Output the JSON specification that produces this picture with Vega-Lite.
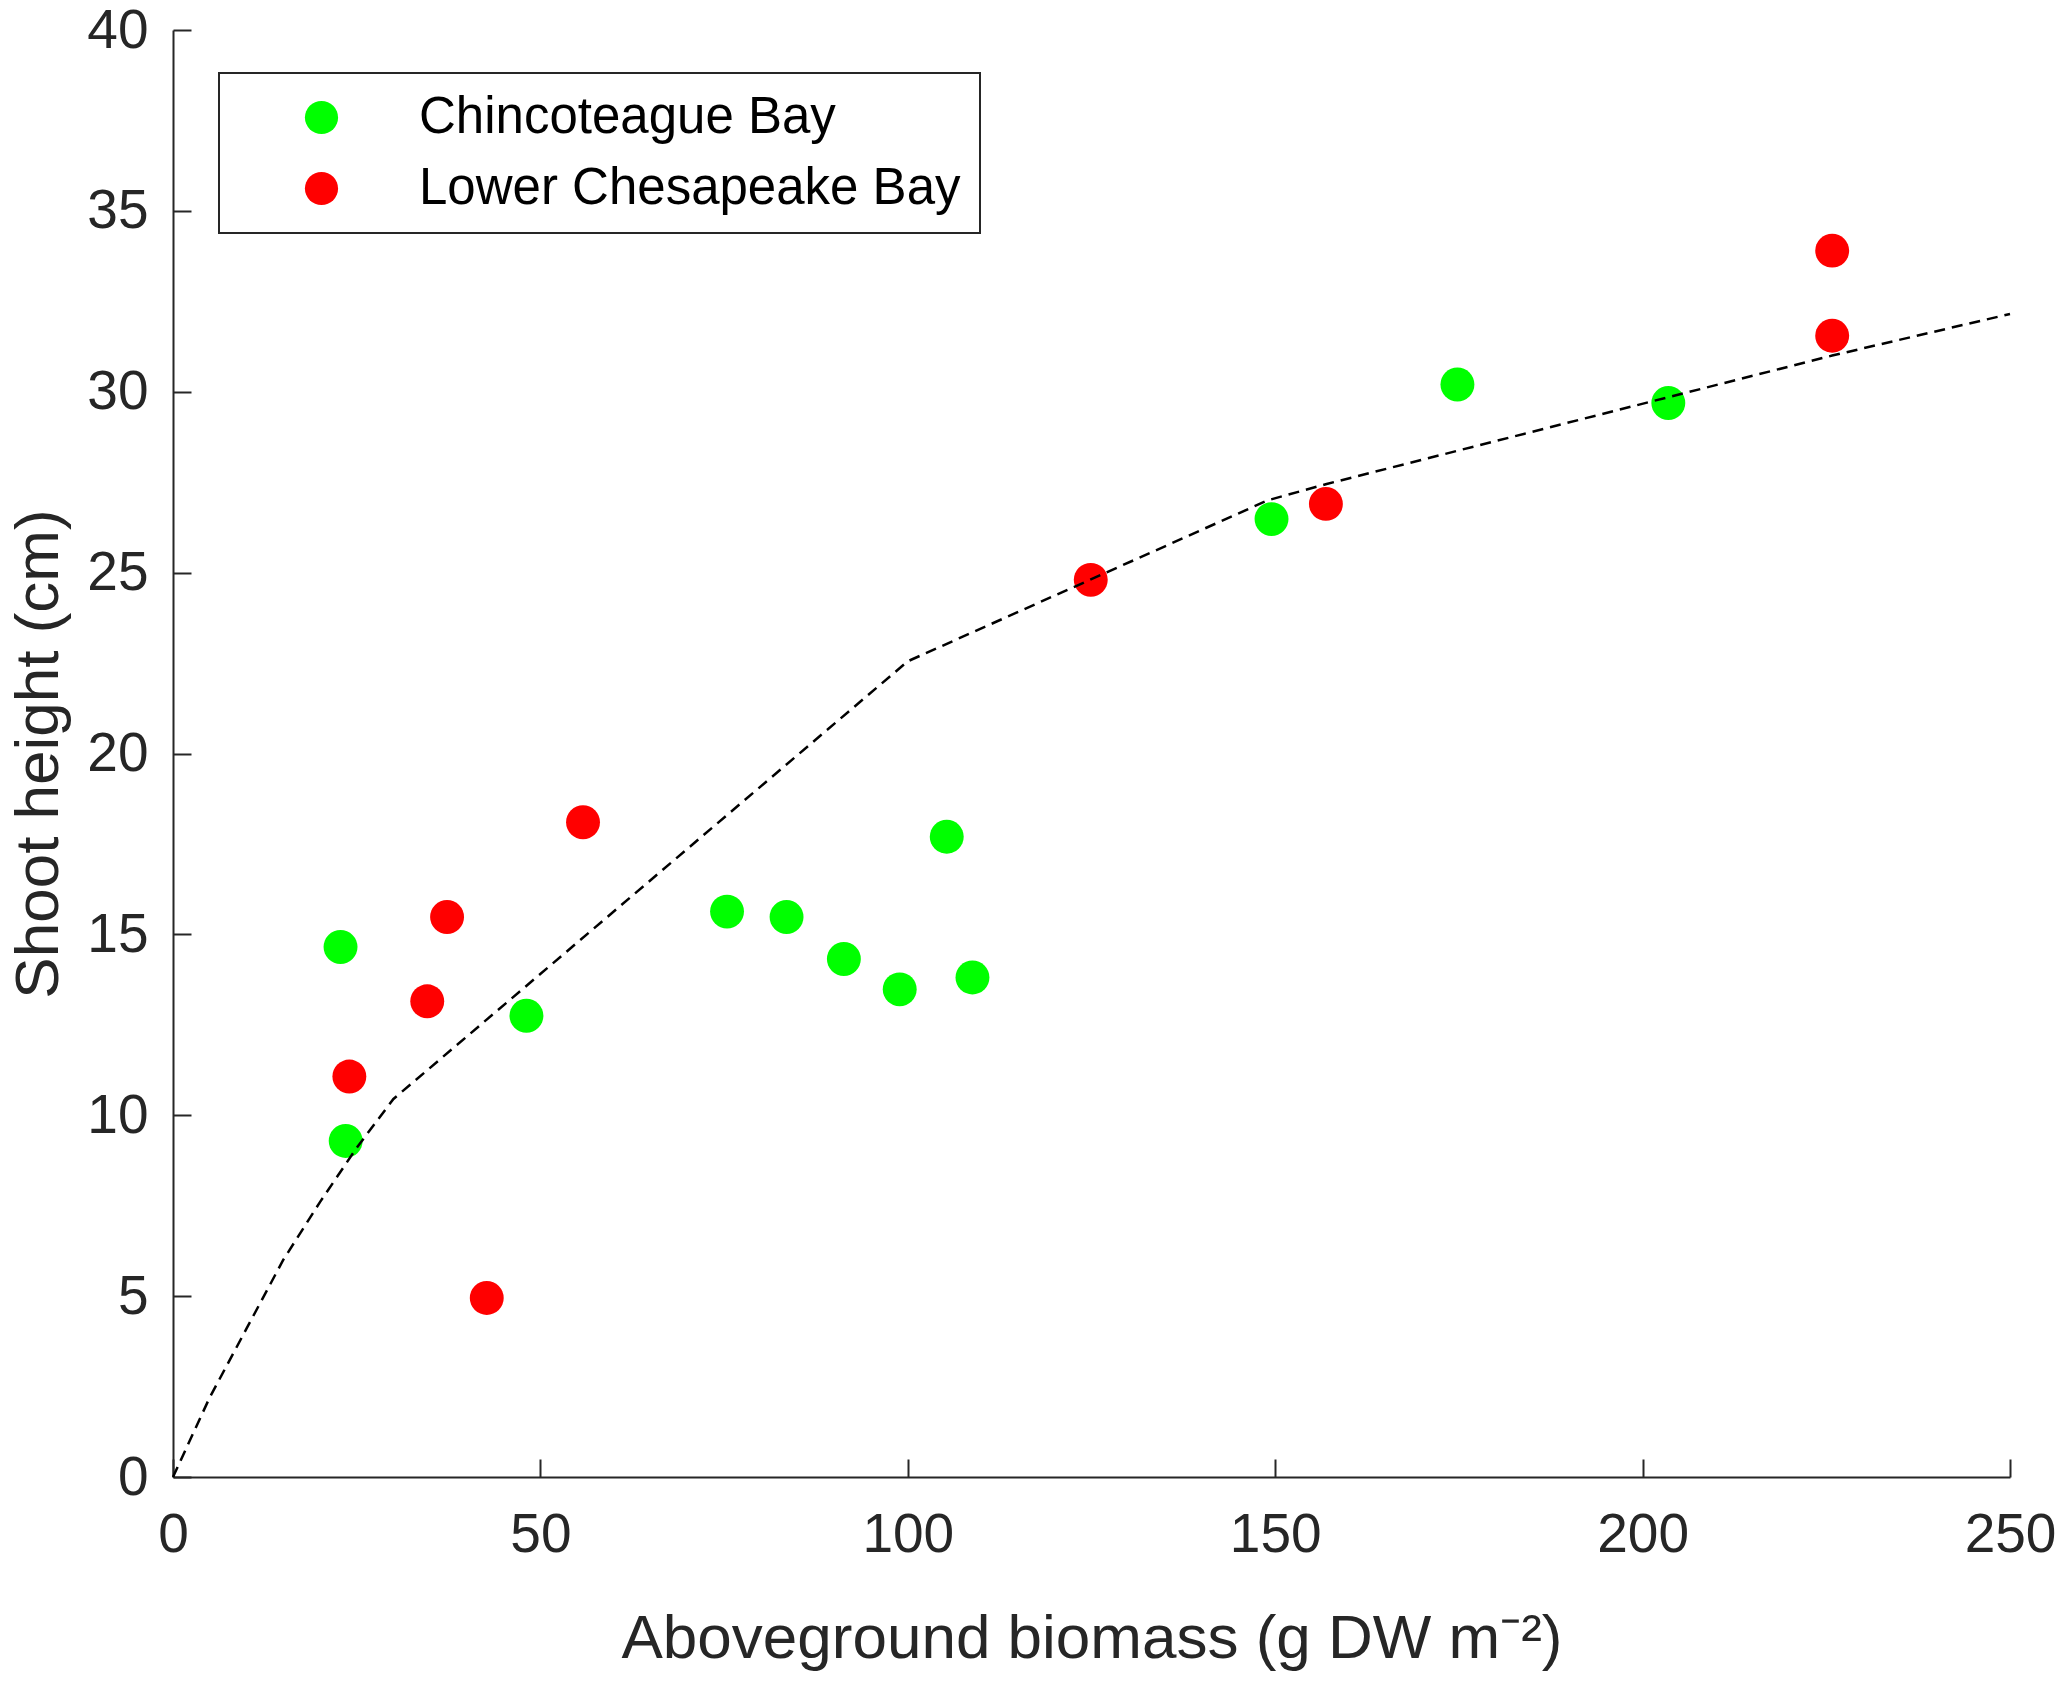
{
  "$schema": "https://vega.github.io/schema/vega-lite/v6.json",
  "description": "Shoot height versus aboveground biomass, Chincoteague Bay and Lower Chesapeake Bay",
  "autosize": "none",
  "width": 1837,
  "height": 1447,
  "padding": {"left": 173, "top": 30, "right": 57, "bottom": 205},
  "background": "white",
  "datasets": {
    "points": [
      {"site": "Chincoteague Bay", "biomass": 22.8, "height": 14.65},
      {"site": "Chincoteague Bay", "biomass": 23.5, "height": 9.29},
      {"site": "Chincoteague Bay", "biomass": 48.1, "height": 12.75},
      {"site": "Chincoteague Bay", "biomass": 75.4, "height": 15.63},
      {"site": "Chincoteague Bay", "biomass": 83.5, "height": 15.48},
      {"site": "Chincoteague Bay", "biomass": 91.3, "height": 14.32},
      {"site": "Chincoteague Bay", "biomass": 98.9, "height": 13.48},
      {"site": "Chincoteague Bay", "biomass": 105.3, "height": 17.7},
      {"site": "Chincoteague Bay", "biomass": 108.8, "height": 13.81},
      {"site": "Chincoteague Bay", "biomass": 149.5, "height": 26.48},
      {"site": "Chincoteague Bay", "biomass": 174.8, "height": 30.2},
      {"site": "Chincoteague Bay", "biomass": 203.5, "height": 29.69},
      {"site": "Lower Chesapeake Bay", "biomass": 24.0, "height": 11.07},
      {"site": "Lower Chesapeake Bay", "biomass": 34.6, "height": 13.15},
      {"site": "Lower Chesapeake Bay", "biomass": 37.3, "height": 15.48},
      {"site": "Lower Chesapeake Bay", "biomass": 42.7, "height": 4.95},
      {"site": "Lower Chesapeake Bay", "biomass": 55.8, "height": 18.1},
      {"site": "Lower Chesapeake Bay", "biomass": 124.9, "height": 24.8},
      {"site": "Lower Chesapeake Bay", "biomass": 156.9, "height": 26.9},
      {"site": "Lower Chesapeake Bay", "biomass": 225.8, "height": 33.9},
      {"site": "Lower Chesapeake Bay", "biomass": 225.8, "height": 31.55}
    ],
    "fit": [
      {"biomass": 0, "height": 0},
      {"biomass": 5, "height": 2.2},
      {"biomass": 10, "height": 4.1},
      {"biomass": 15, "height": 6.0},
      {"biomass": 20, "height": 7.6},
      {"biomass": 25, "height": 9.1},
      {"biomass": 30, "height": 10.45},
      {"biomass": 100, "height": 22.55},
      {"biomass": 149, "height": 27.0},
      {"biomass": 157, "height": 27.45},
      {"biomass": 225.8, "height": 31.0},
      {"biomass": 250, "height": 32.15}
    ]
  },
  "encoding": {
    "x": {
      "field": "biomass",
      "type": "quantitative",
      "scale": {"domain": [0, 250], "nice": false, "zero": true},
      "axis": {"values": [0, 50, 100, 150, 200, 250], "labelPadding": 49, "labelFlush": false, "titleBaseline": "alphabetic", "titleY": 180},
      "title": "Aboveground biomass (g DW m⁻²)"
    },
    "y": {
      "field": "height",
      "type": "quantitative",
      "scale": {"domain": [0, 40], "nice": false},
      "axis": {"values": [0, 5, 10, 15, 20, 25, 30, 35, 40], "labelPadding": 43, "labelFlush": false, "titleBaseline": "alphabetic", "titleX": -116},
      "title": "Shoot height (cm)"
    }
  },
  "layer": [
    {
      "data": {"name": "points"},
      "mark": {"type": "point", "shape": "circle", "filled": true, "size": 1150, "opacity": 1},
      "encoding": {
        "color": {
          "field": "site",
          "type": "nominal",
          "scale": {"domain": ["Chincoteague Bay", "Lower Chesapeake Bay"], "range": ["#00ff00", "#ff0000"]},
          "legend": {"title": null}
        }
      }
    },
    {
      "data": {"name": "fit"},
      "mark": {"type": "line", "color": "black", "strokeWidth": 2.5, "strokeDash": [11, 7]},
      "encoding": {}
    }
  ],
  "config": {
    "font": "Liberation Sans",
    "view": {"stroke": null},
    "axis": {
      "grid": false,
      "domainColor": "#262626",
      "domainWidth": 2,
      "tickColor": "#262626",
      "tickWidth": 2,
      "tickSize": -18,
      "labelFontSize": 55,
      "labelColor": "#262626",
      "titleFontSize": 62,
      "titleFontWeight": "normal",
      "titleColor": "#262626"
    },
    "legend": {
      "orient": "none",
      "legendX": 46,
      "legendY": 43,
      "strokeColor": "#262626",
      "strokeWidth": 2,
      "fillColor": "white",
      "padding": 19,
      "symbolType": "circle",
      "symbolSize": 1100,
      "symbolStrokeWidth": 0,
      "symbolOffset": 58,
      "labelOffset": 72,
      "labelFontSize": 51,
      "labelLimit": 1000,
      "labelColor": "black",
      "rowPadding": 19
    }
  }
}
